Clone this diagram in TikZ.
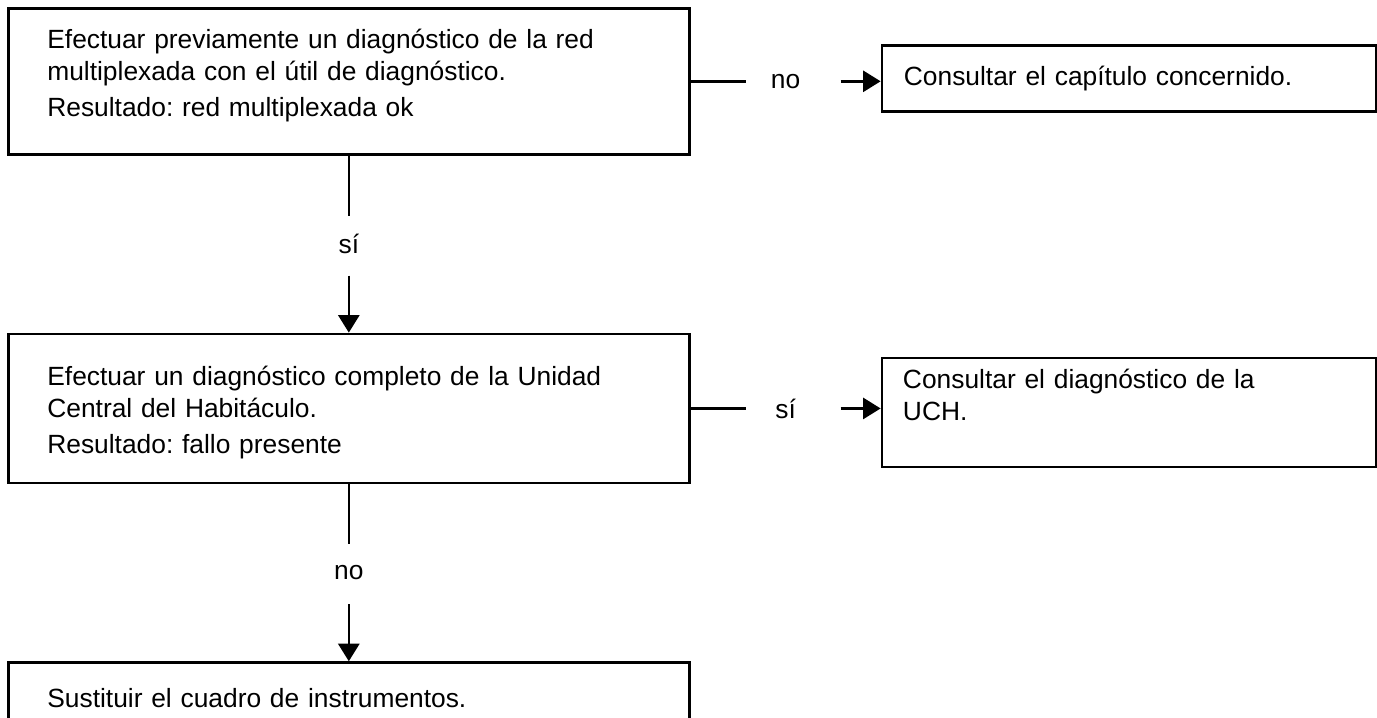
\documentclass[tikz,border=0pt]{standalone}
\usepackage{fontspec}
\setmainfont{Liberation Sans}
\usetikzlibrary{arrows.meta, positioning}

\begin{document}
\begin{tikzpicture}[
    node distance=3.54cm and 3.8cm,
    every node/.style={font=\fontsize{15}{18.2}\selectfont\frenchspacing},
    mainbox/.style={rectangle, draw, line width=1.5pt, minimum width=13.62cm, minimum height=2.92cm},
    refbox/.style={rectangle, draw, line width=1.5pt, minimum width=9.88cm, text width=9cm, inner xsep=0.44cm, align=left},
    boxtext/.style={anchor=north west, inner sep=0pt, text width=12cm, align=left},
    line/.style={line width=1.5pt},
    arrow/.style={line width=1.5pt, -{Triangle[width=12pt,length=10pt]}}
]

% Page
\fill[white] (0,0) rectangle (27.54,-14.36);
\useasboundingbox (0,0) rectangle (27.54,-14.36);
\clip (0,0) rectangle (27.54,-14.36);

% Boxes
\node (check) [mainbox, anchor=north west] at (0.14,-0.14) {};
\node (chapter) [refbox, minimum height=1.32cm, right=of check, yshift=0.06cm] {Consultar el capítulo concernido.};
\node (uch) [mainbox, minimum height=2.98cm, below=of check] {};
\node (uchref) [refbox, minimum height=2.18cm, right=of uch, yshift=-0.08cm] {};
\node (replace) [mainbox, minimum height=1.52cm, below=of uch] {};

% Texts
\node (checktext) [boxtext] at ([xshift=0.8cm, yshift=-0.44cm]check.north west) {Efectuar previamente un diagnóstico de la red\\multiplexada con el útil de diagnóstico.\\[2pt]Resultado: red multiplexada ok};
\node (uchtext) [boxtext] at ([xshift=0.8cm, yshift=-0.67cm]uch.north west) {Efectuar un diagnóstico completo de la Unidad\\Central del Habitáculo.\\[2pt]Resultado: fallo presente};
\node (uchreftext) [boxtext, text width=9cm] at ([xshift=0.44cm, yshift=-0.24cm]uchref.north west) {Consultar el diagnóstico de la\\UCH.};
\node (replacetext) [boxtext] at ([xshift=0.8cm, yshift=-0.53cm]replace.north west) {Sustituir el cuadro de instrumentos.};

\coordinate (nohead) at (check.east -| chapter.west);
\coordinate (sihead) at (uch.east -| uchref.west);

% Arrows
\draw [line] (check.east) -- ++(1.1cm,0);
\path (check.east) -- node (no1) {no} (nohead);
\draw [arrow] ([xshift=-0.8cm]nohead) -- (nohead);

\draw [line] (check.south) -- ++(0,-1.2cm);
\path (check.south) -- node (si1) {sí} (uch.north);
\draw [arrow] ([yshift=1.14cm]uch.north) -- (uch.north);

\draw [line] (uch.east) -- ++(1.1cm,0);
\path (uch.east) -- node (si2) {sí} (sihead);
\draw [arrow] ([xshift=-0.8cm]sihead) -- (sihead);

\draw [line] (uch.south) -- ++(0,-1.2cm);
\path (uch.south) -- node (no2) {no} (replace.north);
\draw [arrow] ([yshift=1.14cm]replace.north) -- (replace.north);

\end{tikzpicture}
\end{document}
